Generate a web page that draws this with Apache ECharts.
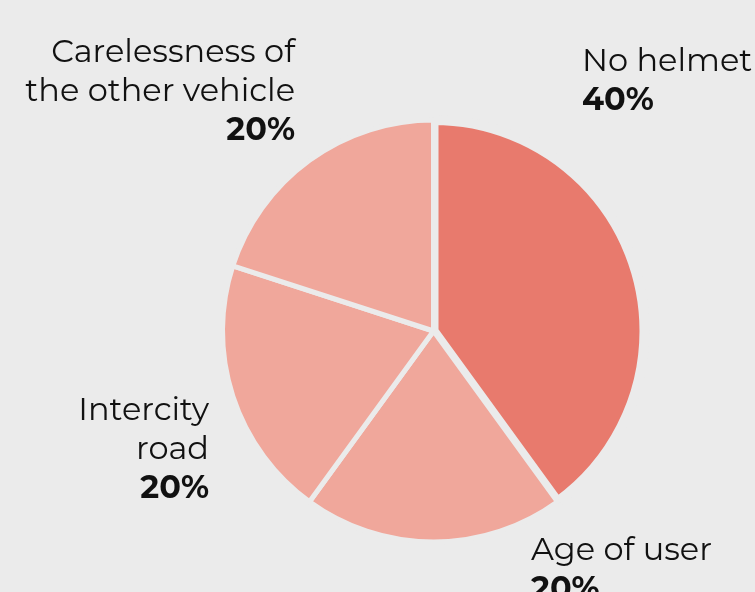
<!DOCTYPE html>
<html><head><meta charset="utf-8">
<script src="https://cdn.jsdelivr.net/npm/echarts@6/dist/echarts.min.js"></script>
<style>html,body{margin:0;padding:0;background:#EBEBEB;}#c{width:755px;height:592px;}</style>
</head><body><div id="c"></div>
<script>
const categories = ["No helmet", "Age of user", "Intercity\nroad", "Carelessness of\nthe other vehicle"];
const values = [40, 20, 20, 20];
const colors = ["#E87A6D", "#F0A79B", "#F0A79B", "#F0A79B"];
const borderWidths = [10, 5, 5, 5];

// label anchor layout (x, y, align) per slice
const labelSpots = [
  {x: 582, y: 42, align: 'left'},
  {x: 531, y: 531, align: 'left'},
  {x: 209, y: 391, align: 'right'},
  {x: 295, y: 33, align: 'right'}
];

const FONT = "'Montserrat', 'DejaVu Sans', sans-serif";
const chart = echarts.init(document.getElementById('c'));
chart.setOption({
  backgroundColor: '#EBEBEB',
  animation: false,
  series: [{
    type: 'pie',
    center: [433.5, 331],
    radius: [0, 211],
    startAngle: 90,
    clockwise: true,
    avoidLabelOverlap: false,
    itemStyle: {borderColor: '#EBEBEB', borderWidth: 5},
    emphasis: {disabled: true},
    labelLine: {show: false},
    label: {
      show: true,
      position: 'outside',
      formatter: p => '{n|' + p.name + '}\n{v|' + p.value + '%}',
      rich: {
        n: {fontFamily: FONT, fontSize: 32, color: '#111', lineHeight: 39},
        v: {fontFamily: FONT, fontSize: 32, fontWeight: 'bold', color: '#111', lineHeight: 39}
      }
    },
    labelLayout: function (params) {
      const s = labelSpots[params.dataIndex];
      return {x: s.x, y: s.y, align: s.align, verticalAlign: 'top'};
    },
    data: categories.map((c, i) => ({
      name: c, value: values[i],
      itemStyle: {color: colors[i], borderWidth: borderWidths[i]},
      label: {rich: {n: {align: labelSpots[i].align}, v: {align: labelSpots[i].align}}}
    }))
  }]
});
</script></body></html>
